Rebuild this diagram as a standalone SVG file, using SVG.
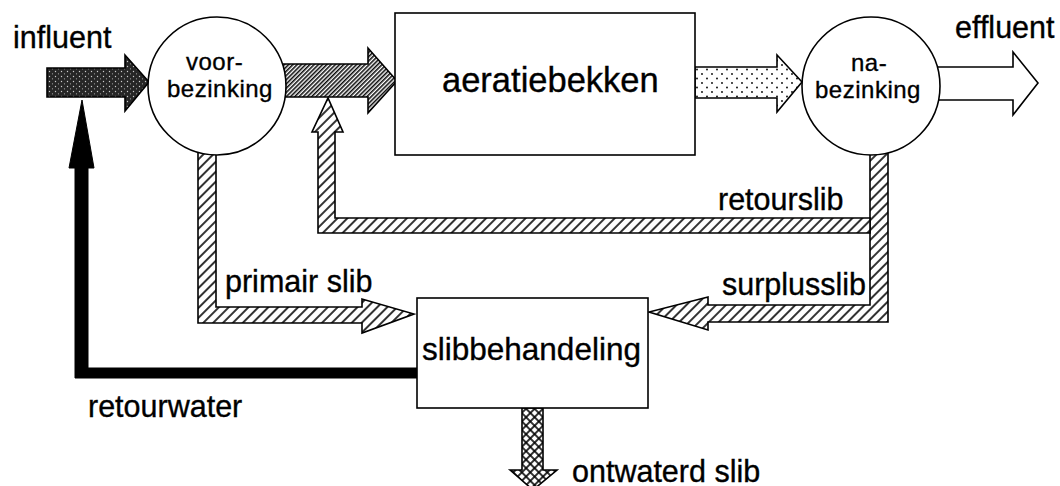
<svg xmlns="http://www.w3.org/2000/svg" width="1060" height="486" viewBox="0 0 1060 486">
<defs>
<style>
text{font-family:"Liberation Sans",Arial,Helvetica,sans-serif;fill:#000;stroke:#000;stroke-width:0.35;}
.lbl{font-size:30.5px;}
.cl{font-size:24px;letter-spacing:0.5px;}
.ol{stroke:#000;stroke-width:1.6;stroke-linejoin:miter;}
.box{fill:#fff;stroke:#000;stroke-width:1.6;}
</style>
<pattern id="hatch" patternUnits="userSpaceOnUse" width="7" height="7" patternTransform="rotate(45)">
<rect width="7" height="7" fill="#fff"/>
<line x1="1" y1="0" x2="1" y2="7" stroke="#000" stroke-width="1.6"/>
</pattern>
<pattern id="hatchDense" patternUnits="userSpaceOnUse" width="3" height="3" patternTransform="rotate(45)">
<rect width="3" height="3" fill="#fff"/>
<line x1="0.8" y1="0" x2="0.8" y2="3" stroke="#000" stroke-width="1.5"/>
</pattern>
<pattern id="dots" patternUnits="userSpaceOnUse" width="10" height="9">
<rect width="10" height="9" fill="#fff"/>
<circle cx="2" cy="2" r="0.9" fill="#000"/>
<circle cx="7" cy="6.5" r="0.9" fill="#000"/>
</pattern>
<pattern id="cross" patternUnits="userSpaceOnUse" width="6" height="6" patternTransform="rotate(45)">
<rect width="6" height="6" fill="#fff"/>
<line x1="1" y1="0" x2="1" y2="6" stroke="#000" stroke-width="1.6"/>
<line x1="0" y1="1" x2="6" y2="1" stroke="#000" stroke-width="1.6"/>
</pattern>
<pattern id="grain" patternUnits="userSpaceOnUse" width="6" height="5">
<rect width="6" height="5" fill="#262626"/>
<circle cx="1.5" cy="1.5" r="0.7" fill="#ccc"/>
<circle cx="4.5" cy="3.8" r="0.6" fill="#aaa"/>
</pattern>
</defs>

<g id="connectors">
<polygon id="influent-arrow" class="ol" fill="url(#grain)" points="47,68 125,68 125,55 149,82 125,111 125,97 47,97"/>
<polygon id="voor-aeratie" class="ol" fill="url(#hatchDense)" points="280,64 368,64 368,48 397,81 368,113 368,97 280,97"/>
<polygon id="aeratie-na" class="ol" fill="url(#dots)" points="695,67 777,67 777,55 802,82 777,112 777,98 695,98"/>
<polygon id="effluent-arrow" class="ol" fill="#fff" points="935,67 1013,67 1013,52 1038,83 1013,115 1013,100 935,100"/>
<polygon id="primair-slib" class="ol" fill="url(#hatch)" points="198,148 216,148 216,307 362,307 362,299 414,314 362,333 362,323 198,323"/>
<polygon id="surplusslib" class="ol" fill="url(#hatch)" points="870,148 888,148 888,322 708,322 708,330 649,312 708,297 708,305 870,305"/>
<polygon id="retourslib" class="ol" fill="url(#hatch)" points="870,218 335,218 335,132 343,132 328,98 312,132 318,132 318,233 870,233"/>
<polygon id="retourwater" fill="#000" stroke="#000" stroke-width="1" points="417,368 88,368 88,168 94,168 82,100 69,168 75,168 75,378 417,378"/>
<polygon id="ontwaterd-arrow" class="ol" fill="url(#cross)" points="522,408 543,408 543,470 557,470 533,490 510,470 522,470"/>
</g>

<g id="voorbezinking">
<circle class="box" cx="217" cy="86" r="69"/>
<text class="cl" x="186" y="70">voor-</text>
<text class="cl" x="167" y="97">bezinking</text>
</g>

<g id="aeratiebekken">
<rect class="box" x="395" y="13" width="300" height="142"/>
<text x="442" y="92" font-size="34.5">aeratiebekken</text>
</g>

<g id="nabezinking">
<circle class="box" cx="871" cy="86" r="69"/>
<text class="cl" x="851" y="71">na-</text>
<text class="cl" x="815" y="98">bezinking</text>
</g>

<g id="slibbehandeling">
<rect class="box" x="417" y="298" width="231" height="110"/>
<text x="422" y="360" font-size="31.5">slibbehandeling</text>
</g>

<g id="labels">
<text class="lbl" x="13" y="48">influent</text>
<text class="lbl" x="955" y="38">effluent</text>
<text class="lbl" x="718" y="210">retourslib</text>
<text class="lbl" x="722" y="295">surplusslib</text>
<text class="lbl" x="225" y="292">primair slib</text>
<text class="lbl" x="88" y="417">retourwater</text>
<text class="lbl" x="572" y="482">ontwaterd slib</text>
</g>
</svg>
